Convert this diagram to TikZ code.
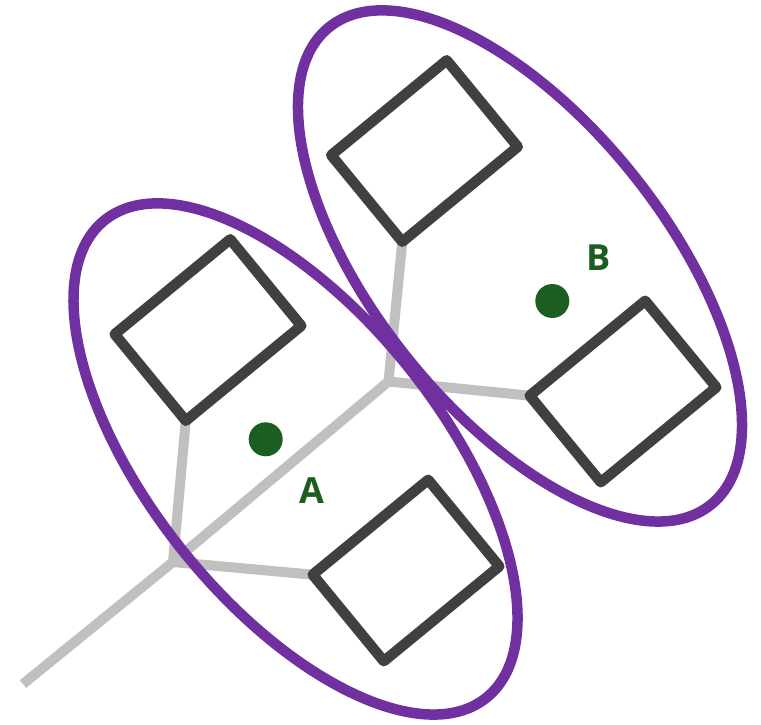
\documentclass[tikz,border=0pt]{standalone}
\usepackage{fontspec}
\setmainfont{Open Sans}
\definecolor{boxgray}{HTML}{404040}
\definecolor{linkgray}{HTML}{C0C0C0}
\definecolor{ringpurple}{HTML}{7030A0}
\definecolor{dotgreen}{HTML}{1B5E20}
\pgfdeclarelayer{bg}
\pgfsetlayers{bg,main}
\begin{document}
\begin{tikzpicture}[x=1pt,y=-1pt,
  box/.style={draw=boxgray, line width=10.5pt, line join=round, fill=white,
    rotate=39.4, minimum width=149.5pt, minimum height=112pt, inner sep=0pt, outer sep=0pt},
  link/.style={draw=linkgray, line width=10pt},
  ring/.style={draw=ringpurple, line width=10.5pt},
  dot/.style={circle, fill=dotgreen, minimum size=34pt, inner sep=0pt},
  lab/.style={text=dotgreen, font=\fontsize{36}{43}\selectfont\bfseries, inner sep=0pt}]
\useasboundingbox (0,0) rectangle (761,725);
\coordinate (J1) at (173,562);
\coordinate (J2) at (388.5,381.5);
\coordinate (E) at (23,684);
\coordinate (cA) at (295.5,459);
\coordinate (cB) at (520,266);
\node[box] (s1) at (208,330) {};
\node[box] (s2) at (406,570.5) {};
\node[box] (s3) at (424.5,151) {};
\node[box] (s4) at (623,391.5) {};
\begin{pgfonlayer}{bg}
\draw[link] (E) -- (J1) -- (J2);
\draw[link] (J1) -- (s1.south west);
\draw[link] (J1) -- (s2.north west);
\draw[link] (J2) -- (s3.south west);
\draw[link] (J2) -- (s4.north west);
\end{pgfonlayer}
\draw[ring, rotate around={-51.4:(cA)}] (cA) ellipse [x radius=305.7pt, y radius=145.4pt];
\draw[ring, rotate around={-51.4:(cB)}] (cB) ellipse [x radius=305.7pt, y radius=145.4pt];
\node[dot] (dA) at (265.7,439.3) {};
\node[dot] (dB) at (552.3,301) {};
\node[lab] (lA) at (312,491) {A};
\node[lab] (lB) at (599,258) {B};
\end{tikzpicture}
\end{document}
